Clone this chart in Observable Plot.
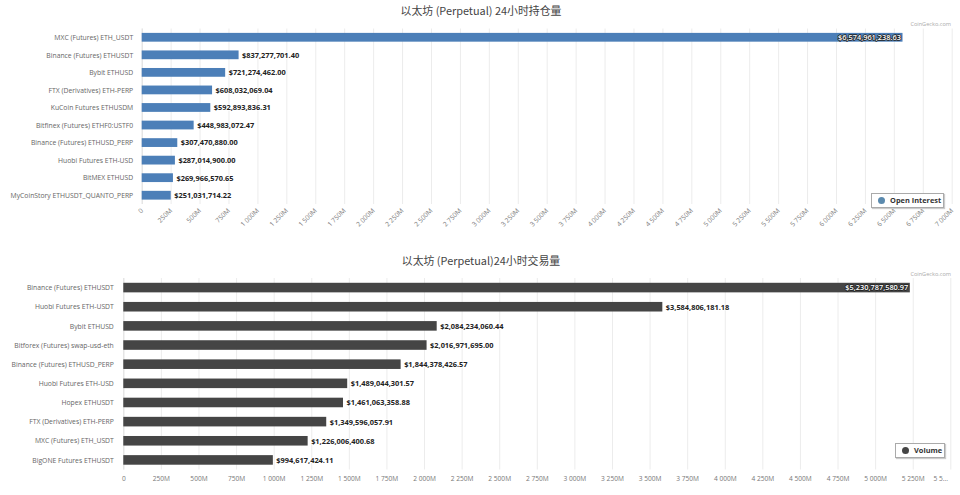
<!DOCTYPE html>
<html><head><meta charset="utf-8">
<script src="https://cdn.jsdelivr.net/npm/d3@7"></script>
<script src="https://cdn.jsdelivr.net/npm/@observablehq/plot@0.6"></script>
<style>
html,body{margin:0;padding:0;background:#fff;overflow:hidden}
body{width:960px;height:495px;position:relative;font-family:"Open Sans","Noto Sans CJK SC",sans-serif}
.title{height:22px;line-height:20px;text-align:center;font-size:10.9px;color:#444;font-family:"Noto Sans CJK SC","Open Sans",sans-serif;padding-left:2px;box-sizing:border-box}
svg{display:block}
.credit{position:absolute;right:9px;font-size:5.6px;color:#aaa}
.legend{position:absolute;box-sizing:border-box;height:15px;background:#fff;border:1px solid #aaa;box-shadow:1px 1px 1px #ccc;font-size:7.4px;font-weight:700;color:#333;display:flex;align-items:center;gap:5px;padding-left:6px}
.legend i{width:7px;height:7px;border-radius:50%;display:block}
</style></head><body>
<script>
const oiNames = ["MXC (Futures) ETH_USDT","Binance (Futures) ETHUSDT","Bybit ETHUSD","FTX (Derivatives) ETH-PERP","KuCoin Futures ETHUSDM","Bitfinex (Futures) ETHF0:USTF0","Binance (Futures) ETHUSD_PERP","Huobi Futures ETH-USD","BitMEX ETHUSD","MyCoinStory ETHUSDT_QUANTO_PERP"];
const oiValues = [6574961238.63,837277701.40,721274462.00,608032069.04,592893836.31,448983072.47,307470880.00,287014900.00,269966570.65,251031714.22];
const oiTicks = [0,250,500,750,1000,1250,1500,1750,2000,2250,2500,2750,3000,3250,3500,3750,4000,4250,4500,4750,5000,5250,5500,5750,6000,6250,6500,6750,7000];
const volNames = ["Binance (Futures) ETHUSDT","Huobi Futures ETH-USDT","Bybit ETHUSD","Bitforex (Futures) swap-usd-eth","Binance (Futures) ETHUSD_PERP","Huobi Futures ETH-USD","Hopex ETHUSDT","FTX (Derivatives) ETH-PERP","MXC (Futures) ETH_USDT","BigONE Futures ETHUSDT"];
const volValues = [5230787580.97,3584806181.18,2084234060.44,2016971695.00,1844378426.57,1489044301.57,1461063358.88,1349596057.91,1226006400.68,994617424.11];
const volTicks = [0,250,500,750,1000,1250,1500,1750,2000,2250,2500,2750,3000,3250,3500,3750,4000,4250,4500,4750,5000,5250];
const volLastTick = [5500];
const volLastLabel = "5 5...";
const oiTitle = "以太坊 (Perpetual) 24小时持仓量";
const volTitle = "以太坊 (Perpetual)24小时交易量";
const credit = "CoinGecko.com";

const loc = d3.formatLocale({decimal:".",thousands:" ",grouping:[3],currency:["$",""]});
const tickFmt = d => d === 0 ? "0" : loc.format(",")(d) + "M";
const money = d3.format("$,.2f");
const font = '"Open Sans","Liberation Sans",sans-serif';

function chart({names, values, ticks, domain, color, height, marginTop, marginBottom, marginLeft, marginRight, rotate, tickPadding, extra}) {
  const rows = names.map((name,i)=>({name, value: values[i]/1e6, label: money(values[i])}));
  return Plot.plot({
    width: 960, height, marginTop, marginBottom, marginLeft, marginRight,
    style: {fontFamily: font, fontSize: "7px", background: "#fff", overflow: "visible"},
    x: {domain, label: null},
    y: {domain: names, paddingInner: .5, paddingOuter: .25, round: false, label: null},
    marks: [
      Plot.ruleX(ticks, {stroke: "#ececec", strokeWidth: 1}),
      Plot.ruleX([0], {stroke: "#e0e0e0", strokeWidth: 1}),
      Plot.barX(rows, {x: "value", y: "name", fill: color}),
      Plot.text(rows.slice(1), {x: "value", y: "name", text: "label", textAnchor: "start", dx: 3, fill: "#222", fontWeight: 700, fontSize: 7.4, stroke: "#fff", strokeWidth: 1.5}),
      Plot.text(rows.slice(0,1), {x: "value", y: "name", text: "label", textAnchor: "end", dx: -2, fill: "#fff", fontWeight: 600, fontSize: 7.4, stroke: "#222", strokeWidth: 1.5}),
      Plot.axisY({tickSize: 0, tickPadding, label: null, fill: "#666", fontSize: 6.8}),
      Plot.axisX({ticks, tickFormat: tickFmt, tickSize: 0, tickPadding: rotate ? 5 : 6, tickRotate: rotate, label: null, fill: "#777", fontSize: 6.6}),
      ...(extra || [])
    ]
  });
}
function title(t,h){const d=document.createElement("div");d.className="title";d.style.height=h+"px";d.textContent=t;document.body.append(d);}
function abs(cls,top,html,extra){const d=document.createElement("div");d.className=cls;d.style.top=top+"px";d.innerHTML=html;Object.assign(d.style,extra||{});document.body.append(d);}

title(oiTitle,22);
document.body.append(chart({names:oiNames,values:oiValues,ticks:oiTicks,domain:[0,7000],color:"#4c7fb8",
  height:223,marginTop:6.5,marginBottom:41,marginLeft:141.7,marginRight:8.3,rotate:-45,tickPadding:9}));
const second = document.createElement("div");
second.style.height="5px";document.body.append(second);
title(volTitle,28);
document.body.append(chart({names:volNames,values:volValues,ticks:volTicks,domain:[0,5500],color:"#454545",
  height:217,marginTop:0,marginBottom:25.5,marginLeft:123.3,marginRight:9.7,rotate:0,tickPadding:10,
  extra:[Plot.ruleX(volLastTick,{stroke:"#ececec"}),
         Plot.text(volLastTick,{x:d=>d,text:()=>volLastLabel,frameAnchor:"bottom",dy:11,dx:-10,fill:"#777",fontSize:6.6})]}));

abs("credit",20,credit);
abs("credit",270,credit);
abs("legend",192.5,'<i style="background:#5b8aae"></i>Open Interest',{left:"871px",width:"73px"});
abs("legend",442.5,'<i style="background:#454545"></i>Volume',{left:"895px",width:"50px"});
</script>
</body></html>
